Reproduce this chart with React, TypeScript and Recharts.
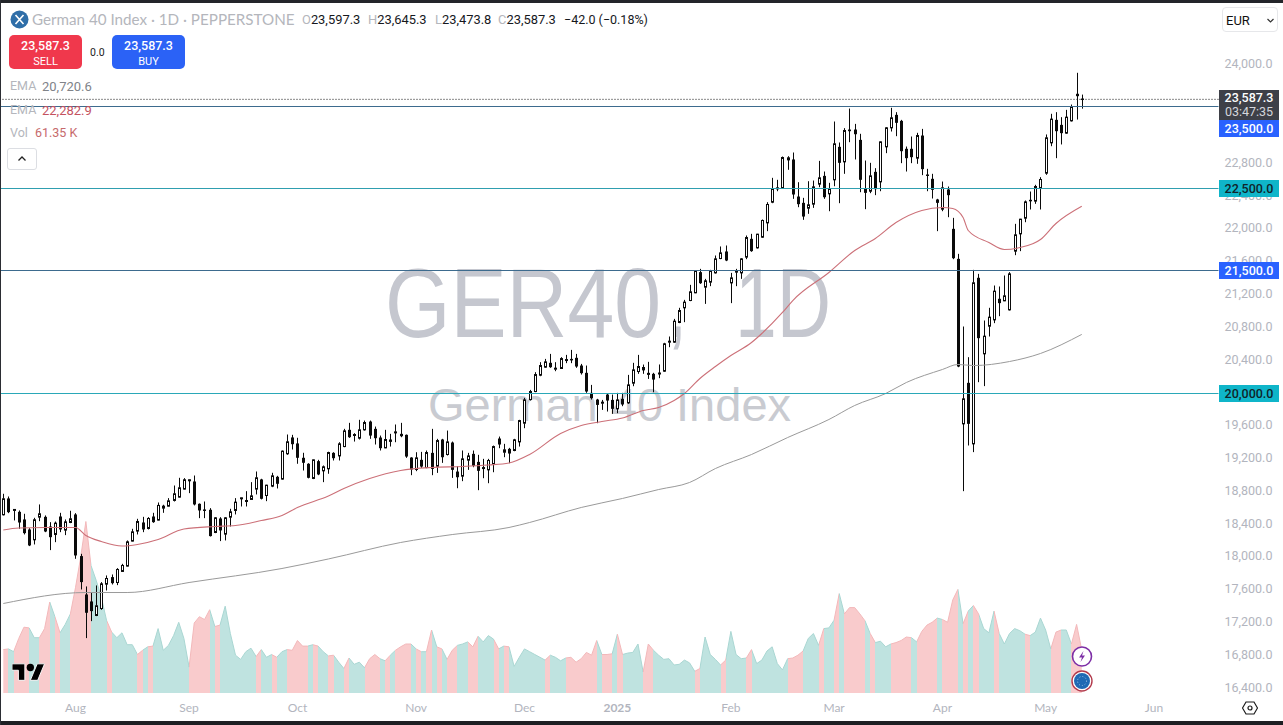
import React from "react";
import { ComposedChart, Bar, Area, Line, XAxis, YAxis, ReferenceLine } from "recharts";

const OPEN = [18521,18720,18578,18557,18464,18342,18216,18492,18496,18378,
18281,18500,18334,18427,18525,18017,17549,17464,17293,17378,
17675,17761,17695,17830,17895,18200,18322,18427,18354,18500,
18456,18602,18626,18696,18736,18834,18940,18927,18655,18586,
18582,18305,18476,18285,18492,18574,18720,18687,18708,18834,
18952,18756,18870,18984,18956,19265,19464,19391,19216,19143,
18964,19175,19057,19082,19276,19239,19353,19557,19491,19455,
19557,19658,19569,19463,19337,19439,19520,19508,19496,19219,
19073,19191,19097,19276,19113,19439,19256,19402,19048,18992,
19187,19264,19166,19089,19069,19142,19451,19284,19325,19305,
19410,19638,19926,20024,20223,20321,20374,20300,20305,20406,
20422,20435,20341,20252,20008,19926,19886,19987,19922,19813,
19935,19886,20126,20268,20288,20252,20240,20240,20272,20626,
20626,20866,21045,21134,21228,21480,21297,21358,21471,21646,
21732,21349,21480,21471,21663,21886,21776,21906,22081,22333,
22500,22512,22849,22854,22402,22325,22260,22309,22553,22654,
22435,22606,23008,22825,23219,23219,23093,22496,22467,22703,
22581,23008,23240,23398,23325,22984,22984,22870,23146,22671,
22618,22366,22248,22488,22008,21642,19630,20130,19386,21411,
20484,20821,20898,21155,21130,21020,21736,21947,22138,22362,
22346,22504,22687,23057,23337,23276,23175,23325,23655,23597.3];

const CLOSE = [18716,18553,18586,18427,18297,18147,18460,18533,18317,18248,
18419,18342,18435,18472,18025,17700,17326,17346,17411,17679,
17744,17687,17854,17903,18191,18313,18439,18342,18476,18431,
18635,18626,18691,18777,18850,18948,18948,18647,18574,18570,
18261,18484,18330,18484,18557,18675,18728,18695,18752,18972,
18716,18882,18996,18899,19297,19411,19382,19216,19155,18972,
19191,19013,19106,19280,19211,19386,19544,19467,19500,19557,
19646,19487,19455,19333,19439,19410,19532,19479,19231,19073,
19215,19109,19280,19081,19426,19223,19410,19069,18979,19203,
19239,19118,19057,19097,19183,19353,19378,19313,19268,19435,
19670,19922,20024,20231,20341,20386,20321,20309,20426,20414,
20410,20329,20248,20024,19943,19861,19894,19914,19813,19922,
19866,20105,20288,20329,20317,20227,20170,20250,20606,20638,
20882,21012,21114,21240,21488,21345,21374,21488,21642,21715,
21622,21410,21492,21642,21902,21736,21943,22110,22305,22496,
22508,22878,22874,22427,22309,22158,22301,22520,22630,22394,
22496,23045,22813,23207,23199,23162,22606,22447,22654,22492,
23069,23240,23362,23301,22955,22870,22882,23146,22736,22663,
22484,22325,22508,22419,21650,20329,19935,19630,21350,20675,
20699,20931,21248,21102,21191,21459,21935,22126,22337,22346,
22524,22610,23118,23346,23199,23175,23370,23488,23626,23587.3];

const HIGH = [18777,18744,18590,18574,18533,18358,18484,18647,18513,18431,
18439,18545,18464,18570,18541,18045,17647,17569,17659,17700,
17781,17793,17870,17923,18208,18350,18472,18496,18492,18545,
18671,18643,18724,18878,18972,18968,18950,19000,18659,18683,
18602,18492,18492,18492,18594,18724,18730,18809,18919,19049,
18960,18887,19033,18996,19305,19500,19496,19460,19277,19150,
19195,19191,19122,19290,19284,19406,19569,19642,19516,19679,
19670,19670,19597,19487,19557,19508,19622,19642,19500,19223,
19284,19288,19305,19569,19447,19447,19548,19414,19113,19305,
19276,19305,19252,19203,19203,19365,19475,19386,19337,19447,
19679,19947,20044,20260,20382,20422,20483,20382,20443,20471,
20532,20483,20361,20341,20105,19935,19922,19996,19987,20008,
20008,20227,20374,20471,20353,20386,20252,20354,20618,20695,
20910,21045,21142,21325,21500,21520,21398,21508,21683,21793,
21805,21471,21520,21650,21927,21947,21947,22122,22333,22630,
22606,22890,22894,22939,22577,22386,22589,22597,22837,22707,
22569,23317,23061,23236,23475,23288,23167,22841,22813,22748,
23073,23248,23484,23431,23337,23012,23134,23179,23227,22740,
22679,22374,22585,22524,22142,21703,20817,20443,21508,21459,
20890,21045,21317,21305,21439,21480,22069,22130,22354,22463,
22545,22638,23159,23411,23431,23370,23459,23524,23911,23645.3];

const LOW = [18513,18541,18452,18350,18281,18139,18159,18443,18309,18090,
18187,18309,18273,18419,17984,17610,17017,17224,17285,17362,
17598,17671,17663,17826,17890,18196,18281,18309,18342,18423,
18452,18545,18622,18683,18732,18830,18785,18635,18480,18480,
18256,18297,18200,18208,18378,18525,18622,18622,18704,18769,
18708,18687,18858,18842,18950,19252,19317,19143,19061,18965,
18956,19004,18919,19021,19183,19183,19345,19459,19414,19439,
19548,19447,19378,19305,19333,19353,19406,19467,19215,19004,
19053,19093,19089,19004,19032,19154,19244,18971,18845,18931,
19069,19101,18821,18967,18906,19040,19333,19223,19150,19296,
19353,19577,19914,20016,20211,20313,20313,20272,20300,20370,
20370,20313,20231,20008,19926,19638,19800,19780,19752,19760,
19845,19874,20089,20240,20240,20178,20016,20187,20264,20565,
20618,20858,20870,21126,21223,21337,21093,21309,21463,21638,
21614,21102,21309,21398,21638,21728,21768,21898,21980,22321,
22467,22504,22728,22374,22272,22118,22191,22264,22516,22374,
22223,22528,22321,22679,23065,22854,22455,22248,22443,22419,
22467,22931,23195,23138,22809,22707,22809,22801,22663,22467,
22378,21980,22223,22150,21638,20321,18809,19366,19285,20138,
20090,20695,20858,20943,21126,21012,21687,21736,22089,22244,
22313,22244,22667,23016,22870,23037,23167,23317,23341,23473.8];

const VOLUME_K = [62,63,59,78,94,93,79,79,92,130,
109,86,98,113,151,194,245,182,161,137,
104,87,79,86,69,69,55,61,66,67,
92,61,68,82,101,78,37,100,109,105,
119,95,97,124,85,54,48,59,64,52,
62,51,55,51,59,62,61,75,67,67,
69,67,59,53,54,44,35,50,41,44,
36,49,55,49,46,54,61,66,70,70,
63,59,59,90,66,63,48,61,68,70,
73,66,81,73,82,77,63,67,66,38,
51,63,59,55,51,47,54,51,46,50,
51,44,49,58,54,75,55,55,56,84,
55,57,58,70,30,70,61,54,48,49,
40,41,47,43,31,35,80,55,48,40,
47,88,55,49,50,62,42,47,60,66,
42,33,49,50,54,60,78,85,68,92,
93,104,142,113,122,122,113,103,85,72,
74,66,70,72,75,80,79,73,88,97,
101,107,105,101,133,148,99,117,125,113,
92,86,117,85,70,85,92,89,84,82,
87,107,90,63,87,90,90,70,98,61.35];

const EMA50_BARS = [0,3,8,14,16,19,23,26,30,35,41,45,50,54,57,63,66,71,77,83,89,94,98,102,108,112,116,120,124,127,130,132,135,138,141,145,147,151,153,160,165,169,173,178,182,184,186,187,191,194,197,201,204,209];
const EMA50_VALUES = [18335,18360,18366,18366,18268,18195,18140,18159,18220,18348,18378,18390,18451,18512,18610,18750,18841,18963,19061,19098,19110,19128,19152,19256,19512,19610,19659,19701,19793,19829,19915,20000,20183,20329,20463,20622,20732,20988,21134,21476,21744,21890,22085,22232,22268,22256,22146,21988,21841,21756,21780,21878,22073,22282.9];

const EMA200_BARS = [0,16,24,36,54,63,77,87,98,102,112,120,127,133,138,145,152,160,165,171,175,182,185,188,195,201,209];
const EMA200_VALUES = [17439,17573,17573,17695,17866,17982,18183,18280,18366,18427,18610,18720,18829,18915,19085,19256,19463,19683,19854,20000,20134,20293,20354,20341,20390,20488,20720.6];

const MONTH_BARS = [14,36,57,80,101,119,141,161,182,202,223];
const MONTH_LABELS = ["Aug","Sep","Oct","Nov","Dec","2025","Feb","Mar","Apr","May","Jun"];
const PRICE_TICKS = [16400,16800,17200,17600,18000,18400,18800,19200,19600,20400,20800,21200,21600,22000,22400,22800,24000];
const PRICE_DOMAIN = [16347.6, 24798.8];
const TOTAL_SLOTS = 236;

const LEVELS = [
  { price: 23500, line: "#3d6b8e", box: "#2962ff", text: "#ffffff", shift: 22 },
  { price: 22500, line: "#2f9fb0", box: "#0fb5c9", text: "#10242a", shift: 0 },
  { price: 21500, line: "#3d6b8e", box: "#2962ff", text: "#ffffff", shift: 0 },
  { price: 20000, line: "#2aa8b8", box: "#0fb5c9", text: "#10242a", shift: 0 },
];

const rows = Array.from({ length: TOTAL_SLOTS }, (_, i) => {
  const has = i < OPEN.length;
  const a = EMA50_BARS.indexOf(i);
  const b = EMA200_BARS.indexOf(i);
  return {
    idx: i,
    open: has ? OPEN[i] : null,
    close: has ? CLOSE[i] : null,
    high: has ? HIGH[i] : null,
    low: has ? LOW[i] : null,
    range: has ? [LOW[i], HIGH[i]] : null,
    volume: has ? VOLUME_K[i] : null,
    ema50: a >= 0 ? EMA50_VALUES[a] : null,
    ema200: b >= 0 ? EMA200_VALUES[b] : null,
  };
});

const fmt = (v: number) => v.toLocaleString("en-US", { minimumFractionDigits: 1, maximumFractionDigits: 1 });
const UI = "Roboto, sans-serif";
const AXIS_GREY = "#b2b5be";
const LAST_CLOSE = CLOSE[CLOSE.length - 1];

function Candle(props: any) {
  const { x, y, width, height, payload } = props;
  if (!payload || payload.high == null) return null;
  const top = Math.min(y, y + height);
  const h = Math.abs(height);
  const at = (p: number) => top + (h * (payload.high - p)) / (payload.high - payload.low);
  const c = Math.round(x + width / 2) + 0.5;
  const up = payload.close >= payload.open;
  const y1 = at(Math.max(payload.open, payload.close));
  const y2 = at(Math.min(payload.open, payload.close));
  return (
    <g>
      <line x1={c} x2={c} y1={top} y2={top + h} stroke="#0a0a0a" strokeWidth={1} />
      {up ? (
        <rect x={c - 1} y={y1} width={2} height={Math.max(y2 - y1, 1)} fill="#fff" stroke="#0a0a0a" strokeWidth={1} />
      ) : (
        <rect x={c - 1.5} y={y1} width={3} height={Math.max(y2 - y1, 1.5)} fill="#0a0a0a" />
      )}
    </g>
  );
}

function Badge({ viewBox, label, box, text, shift }: any) {
  const cy = viewBox.y + shift;
  const left = viewBox.x + viewBox.width + 0.5;
  return (
    <g>
      <rect x={left} y={cy - 8.5} width={60} height={17} fill={box} />
      <text x={left + 30} y={cy + 4.5} textAnchor="middle" fontFamily={UI} fontSize={12.5} fontWeight={500} fill={text}>{label}</text>
    </g>
  );
}

function PriceBadge({ viewBox }: any) {
  const left = viewBox.x + viewBox.width + 0.5;
  return (
    <g>
      <rect x={left} y={90} width={60} height={30} fill="#3e4048" />
      <text x={left + 30} y={102} textAnchor="middle" fontFamily={UI} fontSize={12.5} fontWeight={500} fill="#fff">{fmt(LAST_CLOSE)}</text>
      <text x={left + 30} y={116} textAnchor="middle" fontFamily={UI} fontSize={12.5} fill="#d4d6dc">03:47:35</text>
    </g>
  );
}

function MonthTick({ x, y, payload }: any) {
  const label = MONTH_LABELS[MONTH_BARS.indexOf(payload.value)];
  const strong = label === "2025";
  return (
    <text x={x} y={y} dy={11} textAnchor="middle" fontFamily="Lato, sans-serif" fontSize={12} fontWeight={strong ? 700 : 400} fill={AXIS_GREY}>{label}</text>
  );
}

const abs = (left: number, top: number, extra: any = {}): any => ({ position: "absolute", left, top, whiteSpace: "nowrap", fontFamily: UI, lineHeight: 1, ...extra });

function Header() {
  const ohlc = [
    ["O", "23,597.3", 302],
    ["H", "23,645.3", 368],
    ["L", "23,473.8", 435],
    ["C", "23,587.3", 498],
  ] as const;
  return (
    <>
      <svg style={abs(10, 10)} width={19} height={19}>
        <circle cx={9.5} cy={9.5} r={9} fill="#2f6ea8" />
        <path d="M5.5 5 L13.5 14 M13.5 5 L5.5 14" stroke="#fff" strokeWidth={1.6} />
      </svg>
      <div style={abs(32, 12, { fontSize: 15.2, color: "#b4b6bc", fontFamily: "Lato, sans-serif" })}>German 40 Index · 1D · PEPPERSTONE</div>
      {ohlc.map(([k, v, left]) => (
        <div key={k} style={abs(left, 14, { fontSize: 12.9 })}>
          <span style={{ color: "#b4b6bc" }}>{k}</span><span style={{ color: "#16181d" }}>{v}</span>
        </div>
      ))}
      <div style={abs(564, 14, { fontSize: 12.5, color: "#16181d" })}>−42.0 (−0.18%)</div>

      <div style={abs(9, 35, { width: 73, height: 34, background: "#f0384c", borderRadius: 5, color: "#fff", textAlign: "center", fontSize: 12.5 })}>
        <div style={{ marginTop: 5, fontWeight: 500 }}>23,587.3</div>
        <div style={{ marginTop: 3, fontSize: 11 }}>SELL</div>
      </div>
      <div style={abs(90, 48, { fontSize: 10.5, color: "#222" })}>0.0</div>
      <div style={abs(112, 35, { width: 73, height: 34, background: "#2b62f6", borderRadius: 5, color: "#fff", textAlign: "center", fontSize: 12.5 })}>
        <div style={{ marginTop: 5, fontWeight: 500 }}>23,587.3</div>
        <div style={{ marginTop: 3, fontSize: 11 }}>BUY</div>
      </div>

      <div style={abs(10, 80, { fontSize: 12.5, color: "#b4b6bc" })}>EMA</div>
      <div style={abs(42, 80, { fontSize: 13, color: "#808389" })}>20,720.6</div>
      <div style={abs(10, 104, { fontSize: 12.5, color: "#b4b6bc" })}>EMA</div>
      <div style={abs(42, 104, { fontSize: 13, color: "#c4525f" })}>22,282.9</div>
      <div style={abs(10, 127, { fontSize: 12.5, color: "#b4b6bc" })}>Vol</div>
      <div style={abs(35, 127, { fontSize: 12.5, color: "#c66a6c" })}>61.35 K</div>
      <div style={abs(7, 148, { width: 28, height: 20, border: "1px solid #dcdee3", borderRadius: 3, background: "#fff" })}>
        <svg width={28} height={20}><path d="M10.5 11.5 L14 8 L17.5 11.5" fill="none" stroke="#222" strokeWidth={1.3} /></svg>
      </div>

      <div style={abs(1222, 7, { width: 56, height: 25, border: "1px solid #e6e7ea", borderRadius: 4, background: "#fff", boxSizing: "border-box" })}>
        <span style={abs(3, 6, { fontSize: 13, color: "#111" })}>EUR</span>
        <svg style={abs(43, 9)} width={9} height={7}><path d="M1.5 2 L4.5 5 L7.5 2" fill="none" stroke="#333" strokeWidth={1.2} /></svg>
      </div>
    </>
  );
}

function Ornaments() {
  return (
    <>
      <svg style={abs(12, 660)} width={33} height={26} viewBox="0 0 36 28">
        <path d="M14 22H7V11H0V4h14v18zM28 22h-8l7.5-18h8L28 22z" fill="#000" stroke="#fff" strokeWidth={1} />
        <circle cx={20} cy={8} r={4} fill="#000" />
      </svg>
      <svg style={abs(1070, 644)} width={26} height={50}>
        <circle cx={12} cy={12.5} r={9.5} fill="#fff" stroke="#7d2ea6" strokeWidth={1.6} />
        <path d="M13.5 7 L9 13.5 H12 L10.5 18 L15 11.5 H12 Z" fill="#7d2ea6" />
        <circle cx={12} cy={37} r={10} fill="#fff" stroke="#b23a4c" strokeWidth={1.4} />
        <circle cx={12} cy={37} r={8} fill="#1f69b4" />
        <circle cx={12} cy={37} r={4.5} fill="none" stroke="#a8cbec" strokeWidth={0.9} strokeDasharray="1 2" />
      </svg>
      <svg style={abs(1242, 700)} width={16} height={16}>
        <path d="M4 2 H12 L15.5 8 L12 14 H4 L0.5 8 Z" fill="none" stroke="#1a1a1a" strokeWidth={1.2} />
        <circle cx={8} cy={8} r={2} fill="none" stroke="#1a1a1a" strokeWidth={1.2} />
      </svg>
      <div style={abs(0, 0, { width: 1283, height: 3, background: "#23252a" })} />
      <div style={abs(0, 721, { width: 1283, height: 4, background: "#1d1f23" })} />
      <div style={abs(0, 0, { width: 1, height: 725, background: "#2b2d33" })} />
    </>
  );
}

export default function App() {
  const n = OPEN.length - 1;
  const segments = OPEN.slice(1).map((o, k) => ({ from: k / n, to: (k + 1) / n, up: CLOSE[k + 1] >= o }));
  const wm = "'Liberation Sans', sans-serif";
  return (
    <div style={{ position: "absolute", left: 0, top: 0, width: 1283, height: 725, overflow: "hidden", background: "#fff" }}>
      <svg style={{ position: "absolute", left: 0, top: 0 }} width={1283} height={725}>
        <text x={385} y={337} fontFamily={wm} fontSize={98} fill="#c5c7cf" textLength={276} lengthAdjust="spacingAndGlyphs">GER40</text>
        <text x={667} y={337} fontFamily={wm} fontSize={98} fill="#c5c7cf" textLength={20} lengthAdjust="spacingAndGlyphs">,</text>
        <text x={735} y={337} fontFamily={wm} fontSize={98} fill="#c5c7cf" textLength={96} lengthAdjust="spacingAndGlyphs">1D</text>
        <text x={428} y={421} fontFamily={wm} fontSize={46} fill="#c9cbd1" textLength={363} lengthAdjust="spacingAndGlyphs">German 40 Index</text>
      </svg>
      <div style={{ position: "absolute", left: 0, top: 0 }}>
        <ComposedChart width={1283} height={725} data={rows} margin={{ top: 0, left: 0.72, right: 0, bottom: 0 }} barCategoryGap="10%">
          <defs>
            <linearGradient id="volFill" x1="0" y1="0" x2="1" y2="0">
              {segments.flatMap((s) => [
                <stop key={`a${s.from}`} offset={s.from} stopColor={s.up ? "#bfe3e0" : "#f9cbcc"} />,
                <stop key={`b${s.from}`} offset={s.to} stopColor={s.up ? "#bfe3e0" : "#f9cbcc"} />,
              ])}
            </linearGradient>
            <linearGradient id="volLine" x1="0" y1="0" x2="1" y2="0">
              {segments.flatMap((s) => [
                <stop key={`c${s.from}`} offset={s.from} stopColor={s.up ? "#a9d6d2" : "#f2b8ba"} />,
                <stop key={`d${s.from}`} offset={s.to} stopColor={s.up ? "#a9d6d2" : "#f2b8ba"} />,
              ])}
            </linearGradient>
          </defs>
          <XAxis dataKey="idx" ticks={MONTH_BARS} interval={0} height={32} tickLine={false} axisLine={false} tick={<MonthTick />} />
          <YAxis yAxisId="price" orientation="right" width={64.5} domain={PRICE_DOMAIN} allowDataOverflow ticks={PRICE_TICKS} interval={0} tickFormatter={fmt} tickLine={false} axisLine={false} tickSize={0} tickMargin={6} tick={{ fill: AXIS_GREY, fontSize: 12.5, fontFamily: UI, dy: -1.5 }} />
          <YAxis yAxisId="vol" hide domain={[0, 990]} />
          <Area yAxisId="vol" dataKey="volume" type="linear" fill="url(#volFill)" fillOpacity={1} stroke="url(#volLine)" strokeWidth={1} isAnimationActive={false} dot={false} activeDot={false} />
          <Line yAxisId="price" dataKey="ema200" type="monotone" connectNulls stroke="#9a9a9a" strokeWidth={1} dot={false} activeDot={false} isAnimationActive={false} />
          <Line yAxisId="price" dataKey="ema50" type="monotone" connectNulls stroke="#cc7078" strokeWidth={1.1} dot={false} activeDot={false} isAnimationActive={false} />
          {LEVELS.map((l) => (
            <ReferenceLine key={l.price} yAxisId="price" y={l.price} stroke={l.line} strokeWidth={1} />
          ))}
          <ReferenceLine yAxisId="price" y={LAST_CLOSE} stroke="#111" strokeDasharray="1 2" strokeWidth={1} />
          <Bar yAxisId="price" dataKey="range" shape={<Candle />} isAnimationActive={false} />
        </ComposedChart>
      </div>
      <div style={{ position: "absolute", left: 0, top: 0 }}>
        <ComposedChart width={1283} height={725} data={rows} margin={{ top: 0, left: 0.72, right: 64.5, bottom: 32 }}>
          <XAxis dataKey="idx" hide />
          <YAxis yAxisId="price" hide domain={PRICE_DOMAIN} allowDataOverflow />
          {LEVELS.map((l) => (
            <ReferenceLine key={l.price} yAxisId="price" y={l.price} stroke="none"
              label={{ content: (p: any) => <Badge viewBox={p.viewBox} label={fmt(l.price)} box={l.box} text={l.text} shift={l.shift} /> }} />
          ))}
          <ReferenceLine yAxisId="price" y={LAST_CLOSE} stroke="none" label={{ content: (p: any) => <PriceBadge viewBox={p.viewBox} /> }} />
        </ComposedChart>
      </div>
      <Header />
      <Ornaments />
    </div>
  );
}
